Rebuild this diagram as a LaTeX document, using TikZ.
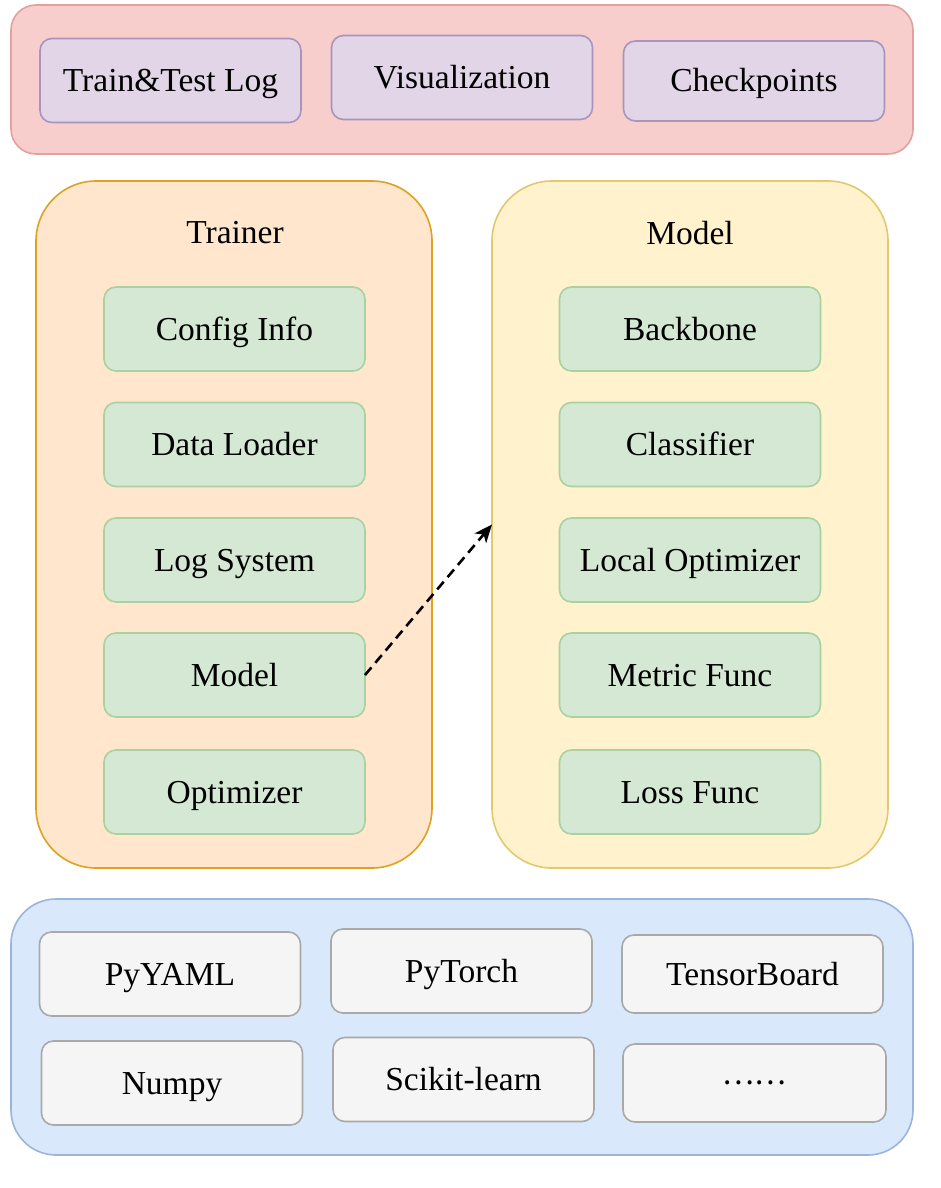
\documentclass[tikz,border=0pt]{standalone}
\usepackage{fontspec}
\setmainfont{Liberation Serif}
\newfontfamily\cjkfont{Noto Sans CJK SC}
\usetikzlibrary{arrows.meta}
\definecolor{redF}{HTML}{F8CECC}\definecolor{redD}{HTML}{E3A09E}
\definecolor{purF}{HTML}{E1D5E7}\definecolor{purD}{HTML}{A895BE}
\definecolor{oraF}{HTML}{FFE6CC}\definecolor{oraD}{HTML}{DCA320}
\definecolor{yelF}{HTML}{FFF2CC}\definecolor{yelD}{HTML}{E2C86E}
\definecolor{grnF}{HTML}{D5E8D4}\definecolor{grnD}{HTML}{A8D2A0}
\definecolor{bluF}{HTML}{DAE8FC}\definecolor{bluD}{HTML}{9AB4DC}
\definecolor{gryF}{HTML}{F5F5F5}\definecolor{gryD}{HTML}{A9A9A9}
\tikzset{
  lbl/.style={font=\fontsize{33.5}{38}\selectfont, text=black},
  cont/.style={draw, line width=1.6pt, inner sep=0pt, outer sep=0pt},
  sbox/.style={lbl, draw, line width=1.6pt, rounded corners=12pt, inner sep=0pt, outer sep=0pt, minimum width=261pt, minimum height=84pt, text depth=0pt, text height=22pt},
  pbox/.style={sbox, fill=purF, draw=purD},
  gbox/.style={sbox, fill=grnF, draw=grnD},
  ybox/.style={sbox, fill=gryF, draw=gryD},
}
\begin{document}
\begin{tikzpicture}[x=1pt,y=-1pt]
\useasboundingbox (0,0) rectangle (941,1188);
% top container
\node[cont, fill=redF, draw=redD, rounded corners=25pt, minimum width=902pt, minimum height=149pt] (top) at (462,79.5) {};
\node[pbox] (log) at (170.5,80.5) {Train\&Test Log};
\node[pbox] (vis) at (462,77.5) {Visualization};
\node[pbox, minimum height=80pt] (ckpt) at (754,81) {Checkpoints};
% trainer
\node[cont, fill=oraF, draw=oraD, rounded corners=60pt, minimum width=396pt, minimum height=687pt] (trainer) at (234,524.5) {};
\node[lbl] (trainerT) at (235,233) {Trainer};
\node[gbox] (t1) at (234.5,329) {Config Info};
\node[gbox] (t2) at (234.5,444.5) {Data Loader};
\node[gbox] (t3) at (234.5,560) {Log System};
\node[gbox] (t4) at (234.5,675) {Model};
\node[gbox] (t5) at (234.5,792) {Optimizer};
% model
\node[cont, fill=yelF, draw=yelD, rounded corners=60pt, minimum width=396pt, minimum height=687pt] (modelc) at (690,524.5) {};
\node[lbl] (modelT) at (690,233) {Model};
\node[gbox] (m1) at (690,329) {Backbone};
\node[gbox] (m2) at (690,444.5) {Classifier};
\node[gbox] (m3) at (690,560) {Local Optimizer};
\node[gbox] (m4) at (690,675) {Metric Func};
\node[gbox] (m5) at (690,792) {Loss Func};
% arrow
\draw[line width=2.6pt, dash pattern=on 10pt off 6pt, -{Stealth[length=18pt,width=15pt,inset=5pt]}] (t4.east) -- (modelc.west);
% bottom container
\node[cont, fill=bluF, draw=bluD, rounded corners=45pt, minimum width=902pt, minimum height=256pt] (bot) at (462,1027) {};
\node[ybox] (b1) at (170,974) {PyYAML};
\node[ybox] (b2) at (461.5,971) {PyTorch};
\node[ybox, minimum height=78pt] (b3) at (752.5,974) {TensorBoard};
\node[ybox] (b4) at (172,1083) {Numpy};
\node[ybox] (b5) at (463.5,1079.5) {Scikit-learn};
\node[ybox, minimum height=78pt, minimum width=263pt, font=\cjkfont\fontsize{30}{34}\selectfont, text height=0pt] (b6) at (754.5,1083) {};
\node[font=\cjkfont\fontsize{30}{34}\selectfont, inner sep=0pt] (b6t) at (b6.center) {……};
\end{tikzpicture}
\end{document}
